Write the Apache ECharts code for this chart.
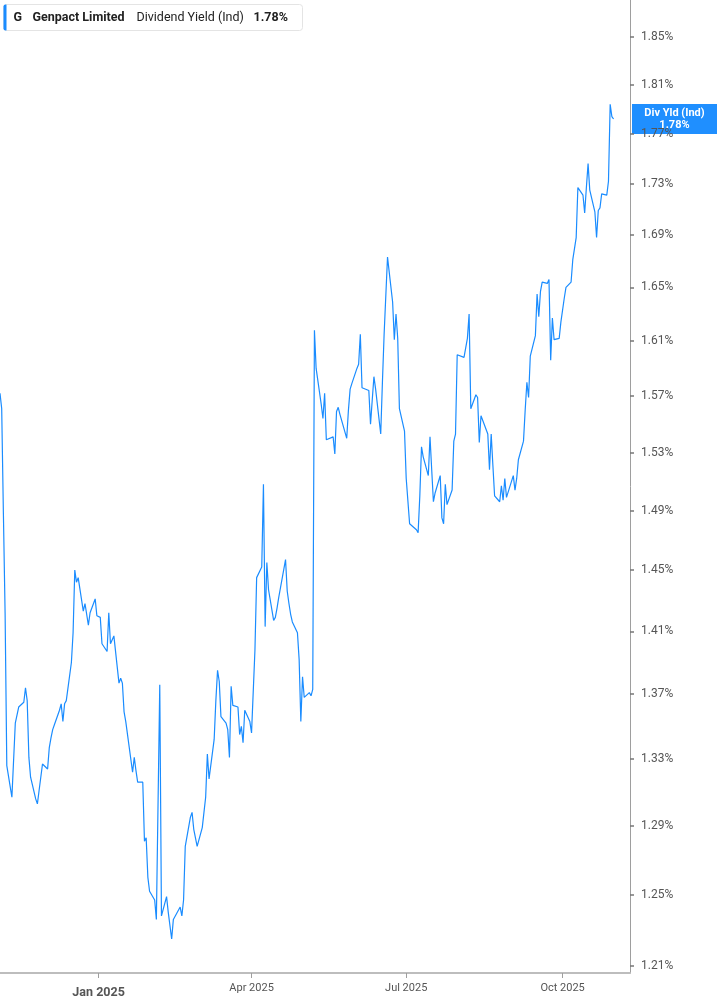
<!DOCTYPE html>
<html>
<head>
<meta charset="utf-8">
<script src="https://cdn.jsdelivr.net/npm/echarts@6/dist/echarts.min.js"></script>
<style>
html,body{margin:0;padding:0;background:#fff;}
#chart{width:717px;height:1005px;}
</style>
</head>
<body>
<div id="chart"></div>
<script>
// ---- data (dividend yield, %) ----
const dates = [
'2024-11-04','2024-11-05','2024-11-06','2024-11-07','2024-11-08','2024-11-11','2024-11-12','2024-11-13','2024-11-14','2024-11-15',
'2024-11-18','2024-11-19','2024-11-20','2024-11-21','2024-11-22','2024-11-25','2024-11-26','2024-11-27','2024-11-29',
'2024-12-02','2024-12-03','2024-12-04','2024-12-05','2024-12-06','2024-12-09','2024-12-10','2024-12-11','2024-12-12','2024-12-13',
'2024-12-16','2024-12-17','2024-12-18','2024-12-19','2024-12-20','2024-12-23','2024-12-24','2024-12-26','2024-12-27','2024-12-30','2024-12-31',
'2025-01-02','2025-01-03','2025-01-06','2025-01-07','2025-01-08','2025-01-10','2025-01-13','2025-01-14','2025-01-15','2025-01-16','2025-01-17',
'2025-01-21','2025-01-22','2025-01-23','2025-01-24','2025-01-27','2025-01-28','2025-01-29','2025-01-30','2025-01-31',
'2025-02-03','2025-02-04','2025-02-05','2025-02-06','2025-02-07','2025-02-10','2025-02-11','2025-02-12','2025-02-13','2025-02-14',
'2025-02-18','2025-02-19','2025-02-20','2025-02-21','2025-02-24','2025-02-25','2025-02-26','2025-02-27','2025-02-28',
'2025-03-03','2025-03-04','2025-03-05','2025-03-06','2025-03-07','2025-03-10','2025-03-11','2025-03-12','2025-03-13','2025-03-14',
'2025-03-17','2025-03-18','2025-03-19','2025-03-20','2025-03-21','2025-03-24','2025-03-25','2025-03-26','2025-03-27','2025-03-28',
'2025-03-31','2025-04-01','2025-04-02','2025-04-03','2025-04-04','2025-04-07','2025-04-08','2025-04-09','2025-04-10','2025-04-11',
'2025-04-14','2025-04-15','2025-04-16','2025-04-17','2025-04-21','2025-04-22','2025-04-23','2025-04-24','2025-04-25',
'2025-04-28','2025-04-29','2025-04-30','2025-05-01','2025-05-02','2025-05-05','2025-05-06','2025-05-07','2025-05-08','2025-05-09',
'2025-05-12','2025-05-13','2025-05-14','2025-05-15','2025-05-16','2025-05-19','2025-05-20','2025-05-21','2025-05-22','2025-05-23',
'2025-05-27','2025-05-28','2025-05-29','2025-05-30','2025-06-02','2025-06-03','2025-06-04','2025-06-05','2025-06-06',
'2025-06-09','2025-06-10','2025-06-11','2025-06-12','2025-06-13','2025-06-16','2025-06-17','2025-06-18','2025-06-20',
'2025-06-23','2025-06-24','2025-06-25','2025-06-26','2025-06-27','2025-06-30','2025-07-01','2025-07-02','2025-07-03',
'2025-07-07','2025-07-08','2025-07-09','2025-07-10','2025-07-11','2025-07-14','2025-07-15','2025-07-16','2025-07-17','2025-07-18',
'2025-07-21','2025-07-22','2025-07-23','2025-07-24','2025-07-25','2025-07-28','2025-07-29','2025-07-30','2025-07-31','2025-08-01',
'2025-08-04','2025-08-05','2025-08-06','2025-08-07','2025-08-08','2025-08-11','2025-08-12','2025-08-13','2025-08-14','2025-08-15',
'2025-08-18','2025-08-19','2025-08-20','2025-08-21','2025-08-22','2025-08-25','2025-08-26','2025-08-27','2025-08-28','2025-08-29',
'2025-09-02','2025-09-03','2025-09-04','2025-09-05','2025-09-08','2025-09-09','2025-09-10','2025-09-11','2025-09-12',
'2025-09-15','2025-09-16','2025-09-17','2025-09-18','2025-09-19','2025-09-22','2025-09-23','2025-09-24','2025-09-25','2025-09-26',
'2025-09-29','2025-09-30','2025-10-01','2025-10-02','2025-10-03','2025-10-06','2025-10-07','2025-10-08','2025-10-09','2025-10-10',
'2025-10-13','2025-10-14','2025-10-15','2025-10-16','2025-10-17','2025-10-20','2025-10-21','2025-10-22','2025-10-23','2025-10-24',
'2025-10-27','2025-10-28','2025-10-29','2025-10-30','2025-10-31'
];
const yields = [
1.572,1.561,1.488,1.422,1.326,1.307,1.307,1.352,1.357,1.362,
1.365,1.374,1.366,1.331,1.319,1.306,1.303,1.311,1.327,
1.324,1.337,1.343,1.348,1.351,1.360,1.364,1.353,1.364,1.366,
1.390,1.409,1.450,1.442,1.445,1.423,1.428,1.414,1.422,1.431,1.420,
1.419,1.402,1.397,1.422,1.402,1.407,1.377,1.380,1.377,1.359,1.353,
1.322,1.331,1.323,1.316,1.316,1.281,1.283,1.260,1.252,
1.247,1.236,1.235,1.376,1.238,1.249,1.240,1.239,1.225,1.236,
1.243,1.238,1.247,1.278,1.295,1.298,1.288,1.289,1.278,
1.289,1.298,1.307,1.333,1.318,1.342,1.366,1.385,1.378,1.356,
1.352,1.348,1.331,1.375,1.363,1.362,1.345,1.350,1.340,1.360,
1.353,1.346,1.347,1.398,1.445,1.452,1.508,1.413,1.455,1.437,
1.417,1.419,1.425,1.432,1.457,1.436,1.428,1.421,1.416,
1.409,1.392,1.353,1.381,1.368,1.371,1.369,1.373,1.618,1.590,
1.564,1.554,1.572,1.539,1.540,1.541,1.529,1.559,1.562,1.557,
1.540,1.560,1.575,1.579,1.590,1.593,1.615,1.576,1.575,
1.574,1.550,1.567,1.584,1.575,1.543,1.580,1.615,1.673,
1.639,1.611,1.630,1.612,1.561,1.545,1.512,1.511,1.481,
1.477,1.475,1.500,1.534,1.527,1.514,1.541,1.518,1.496,1.502,
1.514,1.485,1.481,1.508,1.494,1.504,1.538,1.543,1.600,1.599,
1.598,1.605,1.612,1.630,1.561,1.571,1.569,1.537,1.556,1.556,
1.543,1.518,1.543,1.521,1.500,1.496,1.507,1.497,1.512,1.499,
1.514,1.504,1.512,1.525,1.538,1.560,1.580,1.569,1.599,
1.614,1.645,1.628,1.647,1.654,1.653,1.656,1.596,1.627,1.611,
1.612,1.624,1.625,1.642,1.650,1.654,1.671,1.672,1.688,1.727,
1.721,1.707,1.727,1.746,1.725,1.708,1.688,1.709,1.711,1.722,
1.721,1.732,1.794,1.784,1.782
];
const yTicks = [1.21,1.25,1.29,1.33,1.37,1.41,1.45,1.49,1.53,1.57,1.61,1.65,1.69,1.73,1.77,1.81,1.85];
const xTickDates = ['2025-01-01','2025-04-01','2025-07-01','2025-10-01'];
const monthNames = ['Jan','Feb','Mar','Apr','May','Jun','Jul','Aug','Sep','Oct','Nov','Dec'];
const yMin = 1.2061, yMax = 1.8816;
const xMin = '2024-11-04', xMax = '2025-11-09';

function localTs(s){ const p = s.split('-').map(Number); return new Date(p[0], p[1]-1, p[2]).getTime(); }

const seriesData = dates.map((d,i)=>[localTs(d), Math.log(yields[i])]);
const lastVal = yields[yields.length-1];
const FONT = 'Roboto, "Noto Sans", sans-serif';

const chart = echarts.init(document.getElementById('chart'), null, {renderer:'canvas'});
const option = {
  animation:false,
  backgroundColor:'#ffffff',
  grid:{left:0, right:87, top:0, bottom:32, containLabel:false, outerBoundsMode:'none'},
  xAxis:{
    type:'value',
    min: localTs(xMin), max: localTs(xMax) + 16*3600*1000,
    axisLine:{show:true, lineStyle:{color:'#bdbdbd', width:2}},
    axisTick:{show:true, customValues: xTickDates.map(localTs), length:5, lineStyle:{color:'#9e9e9e', width:1}},
    axisLabel:{
      customValues: xTickDates.map(localTs),
      margin:10, color:'#555', fontSize:11, fontFamily:FONT,
      formatter:function(v){
        const d = new Date(v);
        const s = monthNames[d.getMonth()] + ' ' + d.getFullYear();
        return d.getMonth()===0 ? '{b|'+s+'}' : s;
      },
      rich:{b:{fontWeight:'bold', fontSize:12.5, color:'#555', fontFamily:FONT, padding:[3,0,0,0]}}
    },
    splitLine:{show:false}
  },
  yAxis:{
    type:'value', position:'right',
    min: Math.log(yMin), max: Math.log(yMax),
    axisLine:{show:true, lineStyle:{color:'#9e9e9e', width:1}},
    axisTick:{show:true, customValues: yTicks.map(Math.log), length:4, lineStyle:{color:'#777', width:1.5}},
    axisLabel:{
      customValues: yTicks.map(Math.log),
      margin:11, color:'#555', fontSize:12, fontFamily:FONT,
      formatter:function(v){ return Math.exp(v).toFixed(2) + '%'; }
    },
    splitLine:{show:false}
  },
  series:[{
    type:'line', data:seriesData, showSymbol:false, symbol:'none',
    lineStyle:{color:'#1a8cff', width:1.2},
    clip:true
  }]
};
chart.setOption(option);

const pt = chart.convertToPixel({xAxisIndex:0, yAxisIndex:0}, seriesData[seriesData.length-1]);
chart.setOption({
  graphic:[
    {
      type:'group', left:3, top:4, z:100,
      children:[
        {type:'rect', shape:{x:0,y:0,width:299,height:26,r:3}, style:{fill:'#fff', stroke:'#e4e4e4', lineWidth:1}},
        {type:'rect', shape:{x:0,y:0,width:3,height:26,r:[2,0,0,2]}, style:{fill:'#1a8cff'}},
        {type:'text', x:10, y:13, style:{text:'G', font:'bold 12.5px '+FONT, fill:'#222', verticalAlign:'middle'}},
        {type:'text', x:29, y:13, style:{text:'Genpact Limited', font:'bold 12.5px '+FONT, fill:'#222', verticalAlign:'middle'}},
        {type:'text', x:133, y:13, style:{text:'Dividend Yield (Ind)', font:'12.5px '+FONT, fill:'#222', verticalAlign:'middle'}},
        {type:'text', x:250, y:13, style:{text:lastVal.toFixed(2)+'%', font:'bold 12.5px '+FONT, fill:'#222', verticalAlign:'middle'}}
      ]
    },
    {
      type:'group', x:632, y:pt[1]-15, z:100,
      children:[
        {type:'rect', shape:{x:0,y:0,width:85,height:30}, style:{fill:'#1f8fff'}},
        {type:'text', x:42.5, y:9, style:{text:'Div Yld (Ind)', font:'bold 11px '+FONT, fill:'#fff', align:'center', verticalAlign:'middle'}},
        {type:'text', x:42.5, y:21, style:{text:lastVal.toFixed(2)+'%', font:'bold 11px '+FONT, fill:'#fff', align:'center', verticalAlign:'middle'}}
      ]
    }
  ]
});
</script>
</body>
</html>
